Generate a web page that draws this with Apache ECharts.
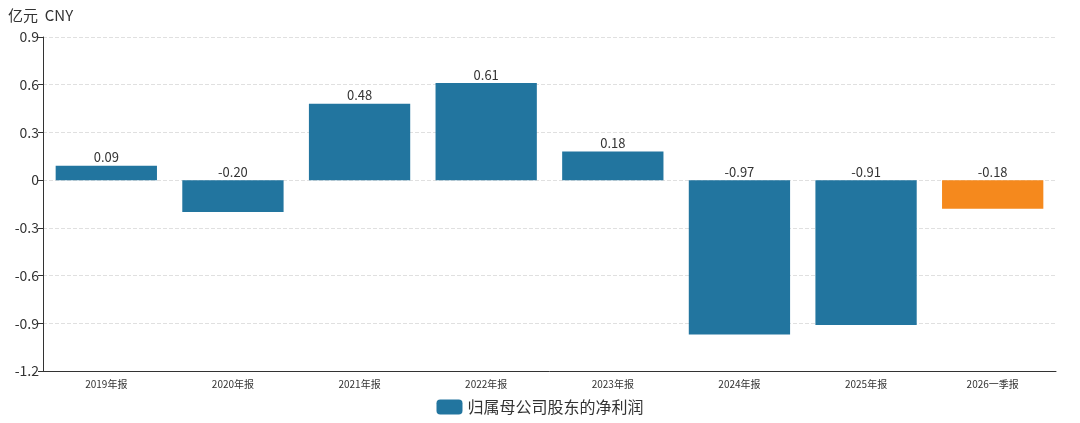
<!DOCTYPE html>
<html><head><meta charset="utf-8">
<script src="https://cdn.jsdelivr.net/npm/echarts@6/dist/echarts.min.js"></script>
<style>html,body{margin:0;padding:0;background:#fff}#c{width:1080px;height:423px}</style>
</head><body><div id="c"></div>
<script>
const categories = ['2019年报','2020年报','2021年报','2022年报','2023年报','2024年报','2025年报','2026一季报'];
const profit = [0.09, -0.20, 0.48, 0.61, 0.18, -0.97, -0.91, -0.18];
const yTicks = {min: -1.2, max: 0.9, interval: 0.3};
const seriesName = '归属母公司股东的净利润';
const blue = '#22759f', orange = '#f5891d';
const font = '"Microsoft YaHei","Noto Sans CJK SC","Noto Sans",sans-serif';
const chart = echarts.init(document.getElementById('c'));
chart.setOption({
  animation: false,
  textStyle: {fontFamily: font},
  grid: {left: 43, right: 24, top: 37, bottom: 52},
  legend: {bottom: 3, left: 'center', itemWidth: 26, itemHeight: 15, itemGap: 6,
    textStyle: {fontSize: 16, color: '#333', fontFamily: font}, data: [seriesName]},
  xAxis: {type: 'category', data: categories,
    axisLine: {onZero: false, lineStyle: {color: '#333'}},
    axisTick: {alignWithLabel: true, length: 6, lineStyle: {color: '#333'}},
    axisLabel: {fontSize: 10, color: '#333', margin: 8}},
  yAxis: {type: 'value', min: yTicks.min, max: yTicks.max, interval: yTicks.interval,
    name: '亿元  CNY', nameLocation: 'end', nameGap: 14,
    nameTextStyle: {fontSize: 15, color: '#333', align: 'left', padding: [0, 0, 0, -35]},
    axisLine: {show: true, lineStyle: {color: '#333'}},
    axisTick: {show: true, length: 5, lineStyle: {color: '#333'}},
    axisLabel: {fontSize: 14, color: '#333', margin: 4,
      formatter: v => Math.abs(v) < 1e-9 ? '0' : (Math.round(v*10)/10).toString()},
    splitLine: {lineStyle: {type: 'dashed', color: '#e0e0e0'}}},
  series: [{
    name: seriesName, type: 'bar', barWidth: '80%',
    itemStyle: {color: blue},
    data: profit.map((v, i) => i === profit.length - 1 ? {value: v, itemStyle: {color: orange}} : v),
    label: {show: true, color: '#333', fontSize: 13, position: 'top', distance: 2,
      formatter: p => p.value.toFixed(2)}
  }]
});
</script></body></html>
